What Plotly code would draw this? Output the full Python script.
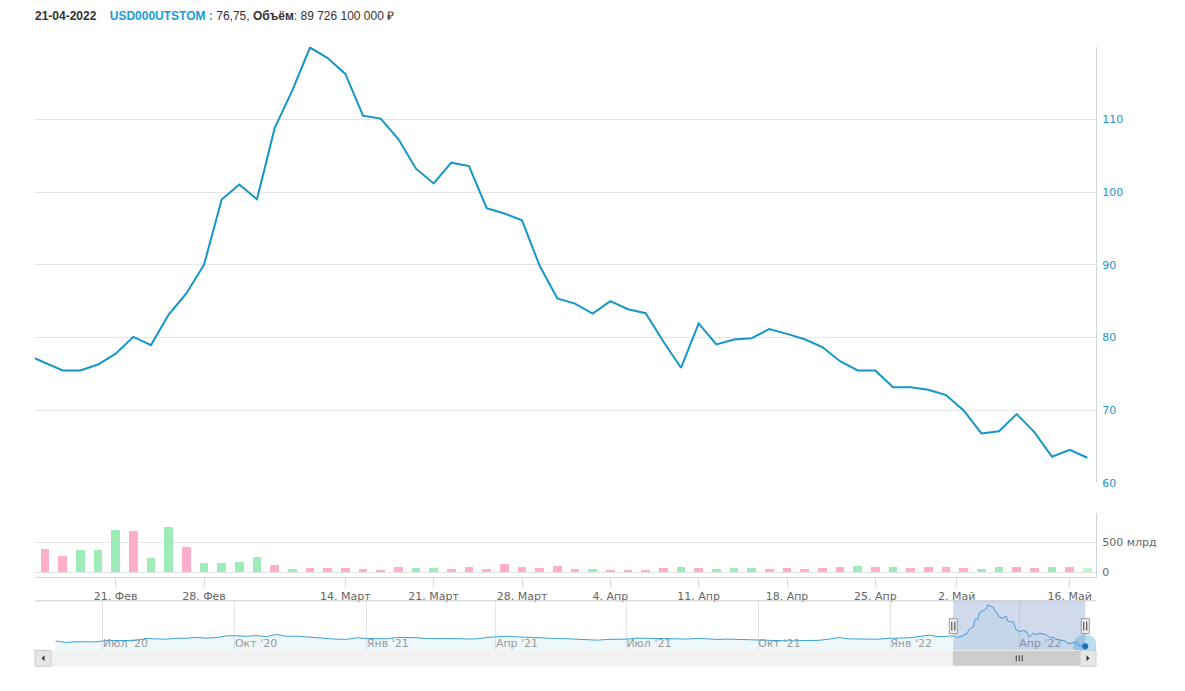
import numpy as np
import pandas as pd
import plotly.graph_objects as go

W, H = 1185, 691  # figure size; page body margin removed in the html

# ---------------- data ----------------
dates = [
    "2022-02-14", "2022-02-15", "2022-02-16", "2022-02-17", "2022-02-18",
    "2022-02-21", "2022-02-22", "2022-02-23", "2022-02-24", "2022-02-25",
    "2022-02-28", "2022-03-01", "2022-03-02", "2022-03-03", "2022-03-04",
    "2022-03-09", "2022-03-10", "2022-03-11", "2022-03-14", "2022-03-15",
    "2022-03-16", "2022-03-17", "2022-03-18", "2022-03-21", "2022-03-22",
    "2022-03-23", "2022-03-24", "2022-03-25", "2022-03-28", "2022-03-29",
    "2022-03-30", "2022-03-31", "2022-04-01", "2022-04-04", "2022-04-05",
    "2022-04-06", "2022-04-07", "2022-04-08", "2022-04-11", "2022-04-12",
    "2022-04-13", "2022-04-14", "2022-04-15", "2022-04-18", "2022-04-19",
    "2022-04-20", "2022-04-21", "2022-04-22", "2022-04-25", "2022-04-26",
    "2022-04-27", "2022-04-28", "2022-04-29", "2022-05-04", "2022-05-05",
    "2022-05-06", "2022-05-11", "2022-05-12", "2022-05-13", "2022-05-16",
    "2022-05-17",
]
price = [
    77.6, 76.56, 75.48, 75.48, 76.29, 77.78, 80.09, 78.96, 83.17, 86.06,
    90.0, 98.96, 101.04, 99.0, 108.78, 113.98, 119.86, 118.42, 116.24, 110.5,
    110.09, 107.29, 103.21, 101.18, 104.03, 103.57, 97.78, 97.06, 96.11, 89.86,
    85.38, 84.66, 83.3, 85.0, 83.89, 83.35, 79.46, 75.84, 81.95, 79.05,
    79.73, 79.91, 81.18, 80.5, 79.77, 78.69, 76.75, 75.48, 75.48, 73.18,
    73.18, 72.82, 72.10, 69.98, 66.82, 67.13, 69.48, 67.0, 63.61, 64.56,
    63.48,
]
# trading volume, млрд руб
volume = [
    350, 388, 270, 371, 371, 708, 691, 236, 758, 421,
    152, 152, 169, 253, 118, 51, 67, 67, 67, 51,
    34, 84, 67, 67, 51, 84, 51, 135, 84, 67,
    101, 51, 51, 34, 34, 34, 67, 84, 67, 51,
    67, 67, 51, 67, 51, 67, 89.7261, 101, 84, 84,
    67, 84, 84, 67, 51, 84, 84, 67, 84, 84,
    67,
]
direction = [
    "down", "down", "down", "up", "up", "up", "down", "up", "up", "down",
    "up", "up", "up", "up", "down", "up", "down", "down", "down", "down",
    "down", "down", "up", "up", "down", "down", "down", "down", "down", "down",
    "down", "down", "up", "down", "down", "down", "down", "up", "down", "up",
    "up", "up", "down", "down", "down", "down", "down", "up", "down", "up",
    "down", "down", "down", "down", "up", "up", "down", "down", "up", "down",
    "up",
]
tick_dates = ["2022-02-21", "2022-02-28", "2022-03-14", "2022-03-21", "2022-03-28",
              "2022-04-04", "2022-04-11", "2022-04-18", "2022-04-25", "2022-05-02",
              "2022-05-16"]
tick_labels = ["21. Фев", "28. Фев", "14. Март", "21. Март", "28. Март",
               "4. Апр", "11. Апр", "18. Апр", "25. Апр", "2. Май", "16. Май"]

# navigator history (weekly closes) before the main period
hist_start = "2020-05-29"
hist_values = [
    70.7, 68.6, 69.6, 69.9, 69.5, 71.2, 71.1, 71.6, 71.4, 74.0,
    73.3, 73.1, 74.4, 74.4, 75.5, 74.5, 75.3, 77.6, 77.8, 77.0,
    78.1, 76.6, 79.6, 77.0, 77.2, 76.0, 75.6, 74.0, 73.1, 72.9,
    75.0, 74.0, 73.9, 73.6, 75.5, 75.7, 75.1, 73.9, 73.9, 74.5,
    73.8, 73.4, 73.6, 75.6, 76.1, 77.2, 76.2, 75.4, 75.0, 74.1,
    74.0, 73.6, 73.3, 72.9, 71.8, 72.8, 72.6, 73.3, 74.5, 74.1,
    73.7, 73.1, 73.2, 73.3, 74.3, 73.6, 72.7, 73.2, 72.6, 72.8,
    72.4, 71.5, 71.2, 70.9, 70.9, 71.5, 71.5, 73.1, 75.3, 73.6,
    73.4, 73.3, 73.1, 74.3, 75.0, 74.9, 76.7, 78.5, 76.4, 77.6,
]
nav_tick_dates = ["2020-07-01", "2020-10-01", "2021-01-01", "2021-04-01",
                  "2021-07-01", "2021-10-01", "2022-01-01", "2022-04-01"]
nav_tick_labels = ["Июл '20", "Окт '20", "Янв '21", "Апр '21",
                   "Июл '21", "Окт '21", "Янв '22", "Апр '22"]
hover_date = "2022-04-21"
ticker = "USD000UTSTOM"

# ---------------- helpers ----------------
def px(x):
    return x / W

def py(y):
    return 1 - y / H

idx = list(range(-1, len(dates) - 1))  # ordinal positions (first point partly off-screen)
dt = pd.to_datetime(dates)
dnum = dt.values.astype("datetime64[D]").astype(float)
tick_pos = np.interp(pd.to_datetime(tick_dates).values.astype("datetime64[D]").astype(float),
                     dnum, np.array(idx, dtype=float))

LINE = "#1496c9"
UP, DOWN, UP_HOVER = "#9debb8", "#ffafc9", "#bff6d2"
bar_colors = [UP if d == "up" else DOWN for d in direction]
bar_colors[-1] = UP_HOVER

xrange_main = [-0.566, 59.49]
FONT = "DejaVu Sans"

fig = go.Figure()
fig.add_trace(go.Scatter(x=idx, y=price, mode="lines", line=dict(color=LINE, width=2),
                         xaxis="x", yaxis="y", hoverinfo="skip", showlegend=False))
fig.add_trace(go.Bar(x=idx, y=volume, width=0.5, marker=dict(color=bar_colors, line=dict(width=0)),
                     xaxis="x2", yaxis="y2", hoverinfo="skip", showlegend=False))

nav_dates = list(pd.date_range(hist_start, periods=len(hist_values), freq="7D")) + list(dt)
nav_values = hist_values + price
fig.add_trace(go.Scatter(x=nav_dates, y=nav_values, mode="lines",
                         line=dict(color="#3aa0d5", width=1), fill="tozeroy",
                         fillcolor="rgba(20,150,201,0.07)",
                         xaxis="x3", yaxis="y3", hoverinfo="skip", showlegend=False))

GRID = "#e6e6e6"
AXL = "#ccd6eb"
fig.update_layout(
    width=W, height=H, margin=dict(l=0, r=0, t=0, b=0),
    paper_bgcolor="white", plot_bgcolor="rgba(0,0,0,0)",
    font=dict(family=FONT, size=11, color="#666666"),
    bargap=0,
    xaxis=dict(domain=[px(35), px(1096)], range=xrange_main, anchor="y",
               showticklabels=False, showgrid=False, zeroline=False, showline=False),
    yaxis=dict(domain=[py(488), py(47)], range=[60, 120], side="right", anchor="x",
               tickvals=[60, 70, 80, 90, 100, 110, 120],
               ticktext=["60", "70", "80", "90", "100", "110", ""],
               showgrid=True, gridcolor=GRID, zeroline=False,
               showline=True, linecolor=AXL, linewidth=1,
               tickfont=dict(color="#1e96c8", size=11, family=FONT),
               ticklabelstandoff=3),
    xaxis2=dict(domain=[px(35), px(1096)], range=xrange_main, anchor="y2",
                tickvals=list(tick_pos), ticktext=tick_labels,
                ticks="outside", ticklen=9, tickcolor=AXL, tickwidth=1,
                showgrid=False, zeroline=False, showline=True, linecolor=AXL, linewidth=1,
                tickfont=dict(color="#666666", size=11, family=FONT)),
    yaxis2=dict(domain=[py(583), py(518)], range=[-83.3, 1000], side="right", anchor="x2",
                tickvals=[0, 500, 1000], ticktext=["0", "500 млрд", ""],
                showgrid=True, gridcolor=GRID, zeroline=False,
                showline=True, linecolor=AXL, linewidth=1,
                tickfont=dict(color="#666666", size=11, family=FONT),
                ticklabelstandoff=3),
    xaxis3=dict(domain=[px(35), px(1096)], type="date",
                range=["2020-05-14 14:00", "2022-05-24 12:00"], anchor="y3",
                tickvals=nav_tick_dates, ticktext=nav_tick_labels,
                ticklabelposition="inside right", ticks="", ticklabelstandoff=-5,
                showgrid=True, gridcolor=GRID, zeroline=False, showline=False,
                tickfont=dict(color="#999999", size=11, family=FONT)),
    yaxis3=dict(domain=[py(657), py(607)], range=[58, 125], anchor="x3", visible=False),
)

shapes = []
# navigator top outline
shapes.append(dict(type="line", xref="paper", yref="paper", x0=px(35), x1=px(1096),
                   y0=py(607), y1=py(607), line=dict(color="#cccccc", width=1)))
# navigator selected range
shapes.append(dict(type="rect", xref="x3", yref="paper", x0=dt[0], x1=dt[-1],
                   y0=py(657), y1=py(607), fillcolor="rgba(102,133,194,0.3)",
                   line=dict(width=0), layer="above"))
# scrollbar track
shapes.append(dict(type="rect", xref="paper", yref="paper", x0=px(35), x1=px(1096),
                   y0=py(673), y1=py(657), fillcolor="#f2f2f2", line=dict(width=0)))
# scrollbar thumb
shapes.append(dict(type="rect", xref="x3", yref="paper", x0=dt[0], x1=dt[-1],
                   y0=py(672), y1=py(658), fillcolor="#cccccc", line=dict(color="#cccccc", width=1)))
# buttons
for bx0, bx1 in [(35, 51), (1080, 1096)]:
    shapes.append(dict(type="rect", xref="paper", yref="paper", x0=px(bx0), x1=px(bx1),
                       y0=py(673), y1=py(657), fillcolor="#e6e6e6",
                       line=dict(color="#cccccc", width=1)))
shapes.append(dict(type="path", xref="paper", yref="paper",
                   path=f"M {px(41.5)} {py(665)} L {px(44.5)} {py(662)} L {px(44.5)} {py(668)} Z",
                   fillcolor="#333333", line=dict(width=0)))
shapes.append(dict(type="path", xref="paper", yref="paper",
                   path=f"M {px(1089.5)} {py(665)} L {px(1086.5)} {py(662)} L {px(1086.5)} {py(668)} Z",
                   fillcolor="#333333", line=dict(width=0)))
# thumb grip
mid = dt[0] + (dt[-1] - dt[0]) / 2
for off in (-3, 0, 3):
    shapes.append(dict(type="line", xref="x3", yref="paper", xsizemode="pixel", xanchor=mid,
                       x0=off, x1=off, y0=py(668), y1=py(662), line=dict(color="#333333", width=1)))
# navigator handles
for hd in (dt[0], dt[-1]):
    shapes.append(dict(type="rect", xref="x3", yref="paper", xsizemode="pixel", xanchor=hd,
                       x0=-4, x1=4, y0=py(640), y1=py(625), fillcolor="#f2f2f2",
                       line=dict(color="#999999", width=1), layer="above"))
    for off in (-1.5, 1.5):
        shapes.append(dict(type="line", xref="x3", yref="paper", xsizemode="pixel", xanchor=hd,
                           x0=off, x1=off, y0=py(637), y1=py(628),
                           line=dict(color="#333333", width=1), layer="above"))
# hover halo at last navigator point
shapes.append(dict(type="circle", xref="x3", yref="y3", xsizemode="pixel", ysizemode="pixel",
                   xanchor=dt[-1], yanchor=price[-1], x0=-12, x1=12, y0=-12, y1=12,
                   fillcolor="rgba(60,160,215,0.35)", line=dict(width=0), layer="above"))
shapes.append(dict(type="circle", xref="x3", yref="y3", xsizemode="pixel", ysizemode="pixel",
                   xanchor=dt[-1], yanchor=price[-1], x0=-3, x1=3, y0=-3, y1=3,
                   fillcolor="#1a6fb5", line=dict(width=0), layer="above"))
fig.update_layout(shapes=shapes)

# header
hi = dates.index(hover_date)
hd_txt = pd.to_datetime(hover_date).strftime("%d-%m-%Y")
price_txt = f"{price[hi]:.2f}".replace(".", ",")
vol_rub = int(round(volume[hi] * 1e9))
vol_txt = f"{vol_rub:,}".replace(",", " ")
header = (f"<b>{hd_txt}</b>&nbsp;&nbsp;&nbsp;&nbsp;"
          f"<b><span style='color:#1a9bd7'>{ticker} :</span></b> {price_txt}, "
          f"<b>Объём</b>: {vol_txt} ₽")
fig.add_annotation(x=px(33), y=py(16), xref="paper", yref="paper", xanchor="left", yanchor="middle",
                   text=header, showarrow=False,
                   font=dict(family="Liberation Sans", size=12, color="#333333"))

fig.write_html("out.html", config={"displayModeBar": False},
               post_script="document.body.style.margin='0';document.body.style.overflow='hidden';")
